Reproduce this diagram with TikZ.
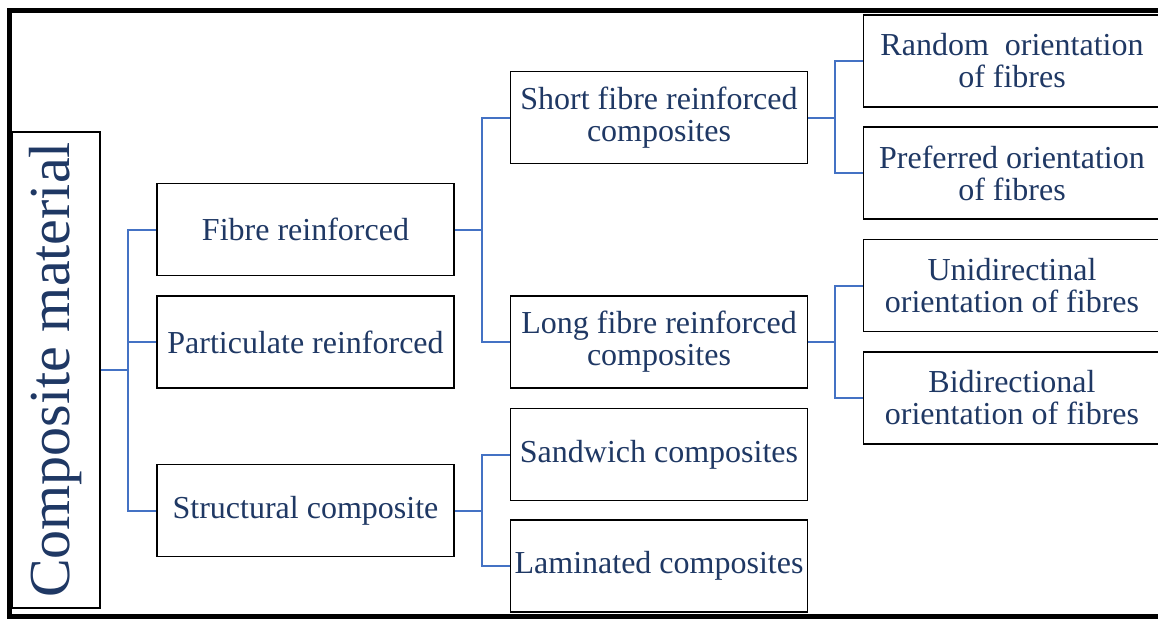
\documentclass[tikz,border=0pt]{standalone}
\usepackage{fontspec}
\setmainfont{Liberation Serif}
\usepackage{tikz}
\usetikzlibrary{
    positioning
}
\definecolor{navy}{RGB}{31,56,100}
\definecolor{linkblue}{RGB}{68,114,196}
\tikzset{
    box/.style={
        draw=black,
        line width=1.5pt,
        fill=white,
        minimum width=297pt,
        minimum height=92pt,
        inner sep=0pt,
        align=center,
        text=navy,
        font=\fontsize{32}{32}\selectfont
    },
    link/.style={
        draw=linkblue,
        line width=2pt
    }
}

\begin{document}
\begin{tikzpicture}[
    node distance=112.5pt,
    on grid
]
    \useasboundingbox (0,0) rectangle (1158pt,-619pt);
    \clip (0,0) rectangle (1158pt,-619pt);

    % Marco
    \draw[line width=5pt] (1170pt,-10pt) -- (9.5pt,-10pt) -- (9.5pt,-616pt) -- (1170pt,-616pt);

    % Raiz
    \node[box, minimum width=88pt, minimum height=476pt,
          font=\fontsize{58}{60}\selectfont] (root) at (56pt,-370pt)
        {\rotatebox{90}{Composite material}};

    % Primer nivel
    \node[box] (fibre) at (305.5pt,-229.5pt) {Fibre reinforced};
    \node[box] (partic) [below=of fibre] {Particulate reinforced};
    \node[box] (struct) [below=168.5pt of partic] {Structural composite};

    % Segundo nivel
    \node[box] (short) [above right=112pt and 353.5pt of fibre] {Short fibre reinforced\\composites};
    \node[box] (long) [below=224.5pt of short] {Long fibre reinforced\\composites};
    \node[box] (sandw) [below=of long] {Sandwich composites};
    \node[box] (lamin) [below=111.5pt of sandw] {Laminated composites};

    % Tercer nivel
    \node[box] (random) [above right=56.5pt and 353pt of short] {Random~ orientation\\of fibres};
    \node[box] (prefer) [below=112pt of random] {Preferred orientation\\of fibres};
    \node[box] (unidir) [below=of prefer] {Unidirectinal\\orientation of fibres};
    \node[box] (bidir) [below=of unidir] {Bidirectional\\orientation of fibres};

    % Conexiones
    \foreach \p/\c in {root/fibre, root/partic, root/struct,
                       fibre/short, fibre/long,
                       struct/sandw, struct/lamin,
                       short/random, short/prefer,
                       long/unidir, long/bidir}
        \draw[link] (\p.east) -| ([xshift=-28pt]\c.west) -- (\c.west);

\end{tikzpicture}
\end{document}
